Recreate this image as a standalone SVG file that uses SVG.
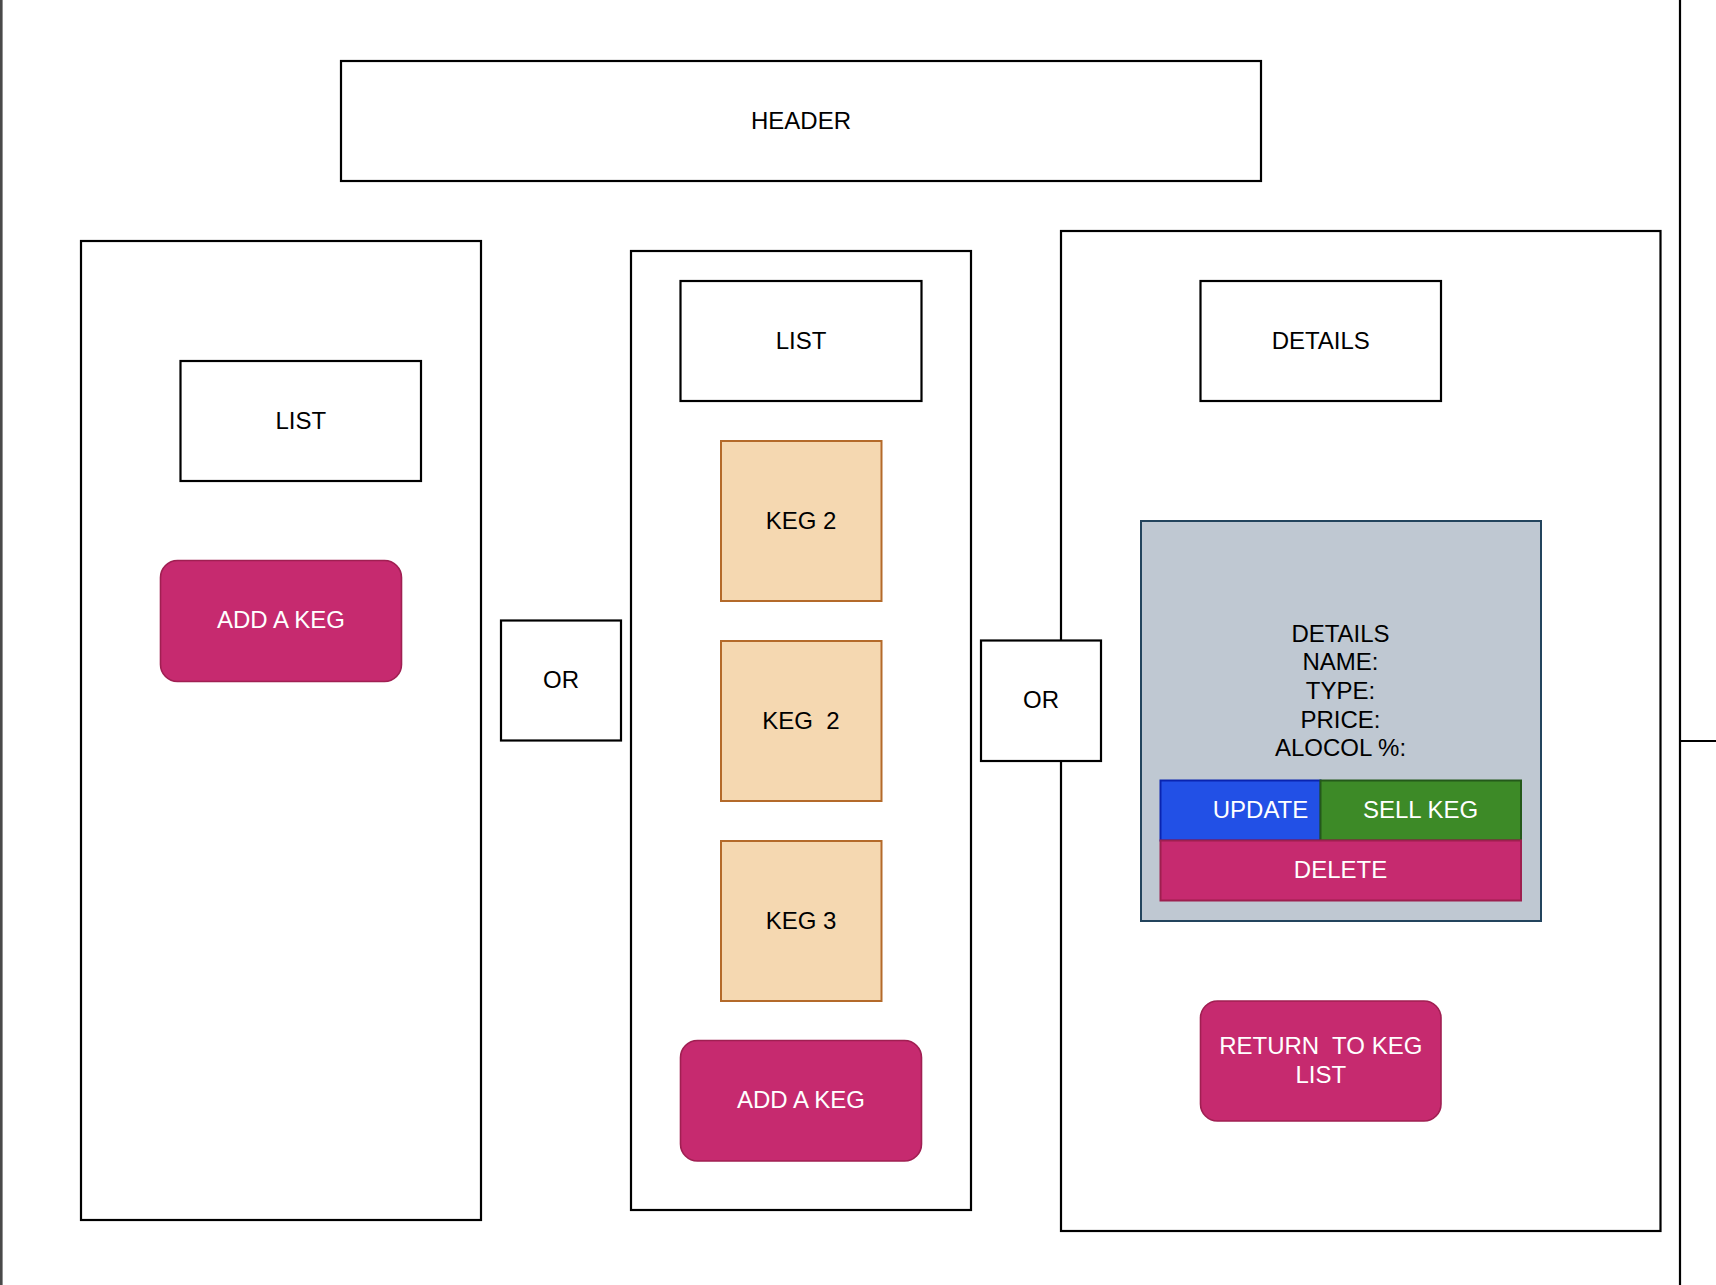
<svg xmlns="http://www.w3.org/2000/svg" width="1716" height="1285" viewBox="0 0 1716 1285">
<style>
  text { font-family: "Liberation Sans", Arial, Helvetica, sans-serif; font-size: 24px; text-anchor: middle; white-space: pre; }
  .box { fill: #ffffff; stroke: #000000; stroke-width: 2.2; }
  .btn { fill: #c62a6f; stroke: #a01f52; stroke-width: 1.6; }
  .keg { fill: #f5d8b1; stroke: #b46a2a; stroke-width: 2; }
  .card { fill: #bfc8d2; stroke: #23445d; stroke-width: 2; }
  .upd { fill: #2250e6; stroke: #0a24b0; stroke-width: 2; }
  .sell { fill: #3d8a27; stroke: #24591a; stroke-width: 2; }
  .del { fill: #c62a6f; stroke: #9e1f4f; stroke-width: 2; }
  .w { fill: #ffffff; }
  .k { fill: #000000; }
</style>
<rect x="0" y="0" width="1716" height="1285" fill="#ffffff"/>
<g id="frame">
  <rect x="0" y="0" width="2.6" height="1285" fill="#4a4a4a"/>
  <line x1="1680" y1="0" x2="1680" y2="1285" stroke="#000" stroke-width="2.2"/>
  <line x1="1680" y1="741" x2="1716" y2="741" stroke="#000" stroke-width="2.2"/>
</g>
<g id="connectors"></g>
<g id="header">
  <rect class="box" x="341" y="61" width="920" height="120"/>
  <text class="k" x="801" y="128.5">HEADER</text>
</g>
<g id="panel-left">
  <rect class="box" x="81" y="241" width="400" height="979"/>
</g>
<g id="list-left">
  <rect class="box" x="180.5" y="361" width="240.5" height="120"/>
  <text class="k" x="300.75" y="428.5">LIST</text>
</g>
<g id="add-keg-left">
  <rect class="btn" x="160.5" y="560.5" width="241" height="121" rx="17"/>
  <text class="w" x="281" y="628">ADD A KEG</text>
</g>
<g id="or-1">
  <rect class="box" x="501" y="620.5" width="120" height="120"/>
  <text class="k" x="561" y="688">OR</text>
</g>
<g id="panel-middle">
  <rect class="box" x="631" y="251" width="340" height="959"/>
</g>
<g id="list-middle">
  <rect class="box" x="680.5" y="281" width="241" height="120"/>
  <text class="k" x="801" y="348.5">LIST</text>
</g>
<g id="keg-2a">
  <rect class="keg" x="721" y="441" width="160.5" height="160"/>
  <text class="k" x="801" y="528.5">KEG 2</text>
</g>
<g id="keg-2b">
  <rect class="keg" x="721" y="641" width="160.5" height="160"/>
  <text class="k" x="801" y="728.5">KEG  2</text>
</g>
<g id="keg-3">
  <rect class="keg" x="721" y="841" width="160.5" height="160"/>
  <text class="k" x="801" y="928.5">KEG 3</text>
</g>
<g id="add-keg-middle">
  <rect class="btn" x="680.5" y="1040.5" width="241" height="120.5" rx="17"/>
  <text class="w" x="801" y="1108">ADD A KEG</text>
</g>
<g id="panel-right">
  <rect class="box" x="1061" y="231" width="599.5" height="1000"/>
</g>
<g id="or-2">
  <rect class="box" x="981" y="640.5" width="120" height="120.5"/>
  <text class="k" x="1041" y="708">OR</text>
</g>
<g id="details-title">
  <rect class="box" x="1200.5" y="281" width="240.5" height="120"/>
  <text class="k" x="1320.75" y="348.5">DETAILS</text>
</g>
<g id="details-card">
  <rect class="card" x="1141" y="521" width="400" height="400"/>
  <text class="k" x="1340.5" y="641.5">DETAILS</text>
  <text class="k" x="1340.5" y="670.2">NAME:</text>
  <text class="k" x="1340.5" y="699">TYPE:</text>
  <text class="k" x="1340.5" y="727.7">PRICE:</text>
  <text class="k" x="1340.5" y="756.4">ALOCOL %:</text>
</g>
<g id="btn-update">
  <rect class="upd" x="1160.5" y="780.5" width="160" height="60"/>
  <text class="w" x="1260.5" y="818">UPDATE</text>
</g>
<g id="btn-sell">
  <rect class="sell" x="1320.5" y="780.5" width="200.5" height="60"/>
  <text class="w" x="1420.5" y="818">SELL KEG</text>
</g>
<g id="btn-delete">
  <rect class="del" x="1160.5" y="840.5" width="360.5" height="60"/>
  <text class="w" x="1340.5" y="878">DELETE</text>
</g>
<g id="btn-return">
  <rect class="btn" x="1200.5" y="1001" width="240.5" height="120" rx="17"/>
  <text class="w" x="1320.75" y="1053.7">RETURN  TO KEG</text>
  <text class="w" x="1320.75" y="1082.5">LIST</text>
</g>
</svg>
